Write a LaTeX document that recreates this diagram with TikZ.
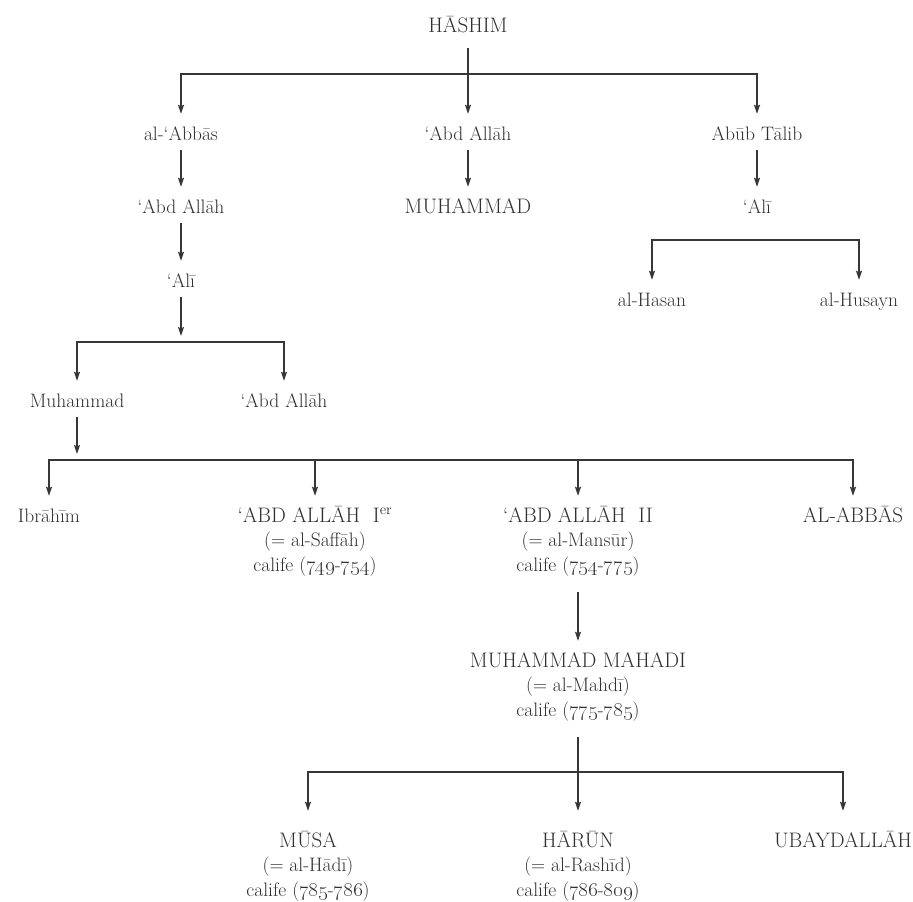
\documentclass[tikz,border=0pt]{standalone}
\usetikzlibrary{arrows.meta}

\definecolor{ink}{RGB}{50,48,47}
\definecolor{rulecol}{RGB}{55,55,55}

% larger size for the names set in capitals
\newcommand\gencaps{\fontsize{21}{24.5}\selectfont}
% old-style figures for the reign dates
\newcommand\gennum[1]{\oldstylenums{#1}}

\begin{document}
\begin{tikzpicture}[x=1pt,y=-1pt,
  person/.style={anchor=base, text=ink, inner xsep=1pt, inner ysep=10pt,
                 text height=16pt, text depth=0pt,
                 font=\fontsize{19.5}{24.5}\selectfont},
  caps/.style={person, font=\gencaps},
  triple/.style={person, text depth=60pt},
  ln/.style={draw=rulecol, line width=1.5pt},
  arr/.style={ln, -{Stealth[length=9pt,width=6pt,inset=1.5pt]}},
]
\fill[white] (0,0) rectangle (913,902);
\useasboundingbox (0,0) rectangle (913,902);

% ---- generation 1
\node[caps] (hashim) at (468,32) {HĀSHIM};

% ---- generation 2
\node[person] (abbas)    at (181,140) {al-‘Abbās};
\node[person] (abd1)     at (468,140) {‘Abd Allāh};
\node[person] (abutalib) at (757,140) {Abūb Tālib};

% ---- generation 3
\node[person] (abd2) at (181,213) {‘Abd Allāh};
\node[caps]   (muhP) at (468,213) {MUHAMMAD};
\node[person] (ali1) at (757,213) {‘Alī};

% ---- generation 4
\node[person] (ali2)   at (181,287) {‘Alī};
\node[person] (hasan)  at (652,306) {al-Hasan};
\node[person] (husayn) at (859,306) {al-Husayn};

% ---- generation 5
\node[person] (muh2) at (77,407)  {Muhammad};
\node[person] (abd3) at (284,407) {‘Abd Allāh};

% ---- generation 6
\node[person] (ibrahim) at (49,522) {Ibrāhīm};
\node[triple] (aa1) at (315,522)
  {\begin{tabular}[t]{@{}c@{}}{\gencaps ‘ABD ALLĀH~~I\textsuperscript{er}}\\
   (= al-Saffāh)\\ calife (\gennum{749}-\gennum{754})\end{tabular}};
\node[triple] (aa2) at (578,522)
  {\begin{tabular}[t]{@{}c@{}}{\gencaps ‘ABD ALLĀH~~II}\\
   (= al-Mansūr)\\ calife (\gennum{754}-\gennum{775})\end{tabular}};
\node[caps] (alabbas) at (853,522) {AL-ABBĀS};

% ---- generation 7
\node[triple] (mahadi) at (578,667)
  {\begin{tabular}[t]{@{}c@{}}{\gencaps MUHAMMAD MAHADI}\\
   (= al-Mahdī)\\ calife (\gennum{775}-\gennum{785})\end{tabular}};

% ---- generation 8
\node[triple] (musa) at (308,847)
  {\begin{tabular}[t]{@{}c@{}}{\gencaps MŪSA}\\
   (= al-Hādī)\\ calife (\gennum{785}-\gennum{786})\end{tabular}};
\node[triple] (harun) at (578,847)
  {\begin{tabular}[t]{@{}c@{}}{\gencaps HĀRŪN}\\
   (= al-Rashīd)\\ calife (\gennum{786}-\gennum{809})\end{tabular}};
\node[caps] (ubayd) at (843,847) {UBAYDALLĀH};

% ---- junctions of the sibling bars
\coordinate (j1) at (468,74);
\coordinate (j2) at (757,240);
\coordinate (j3) at (181,342);
\coordinate (j4) at (77,460);
\coordinate (j5) at (578,772);

% ---- connectors
\draw[arr, shorten <=6pt] (hashim.south) -- (abd1.north);
\draw[arr] (j1) -| (abbas.north);
\draw[arr] (j1) -| (abutalib.north);

\draw[arr] (abbas.south) -- (abd2.north);
\draw[arr] (abd1.south) -- (muhP.north);
\draw[arr] (abutalib.south) -- (ali1.north);

\draw[arr] (j2) -| (hasan.north);
\draw[arr] (j2) -| (husayn.north);

\draw[arr] (abd2.south) -- (ali2.north);
\draw[arr, shorten >=6pt] (ali2.south) -- (j3);
\draw[arr] (j3) -| (muh2.north);
\draw[arr] (j3) -| (abd3.north);

\draw[arr, shorten >=6pt] (muh2.south) -- (j4);
\draw[arr] (j4) -| (ibrahim.north);
\draw[arr] (j4) -| (aa1.north);
\draw[arr] (j4) -| (aa2.north);
\draw[arr] (j4) -| (alabbas.north);

\draw[arr] (aa2.south) -- (mahadi.north);

\draw[arr, shorten >=10pt] (mahadi.south) -- (harun.north);
\draw[arr, shorten >=10pt] (j5) -| (musa.north);
\draw[arr, shorten >=10pt] (j5) -| (ubayd.north);
\end{tikzpicture}
\end{document}
